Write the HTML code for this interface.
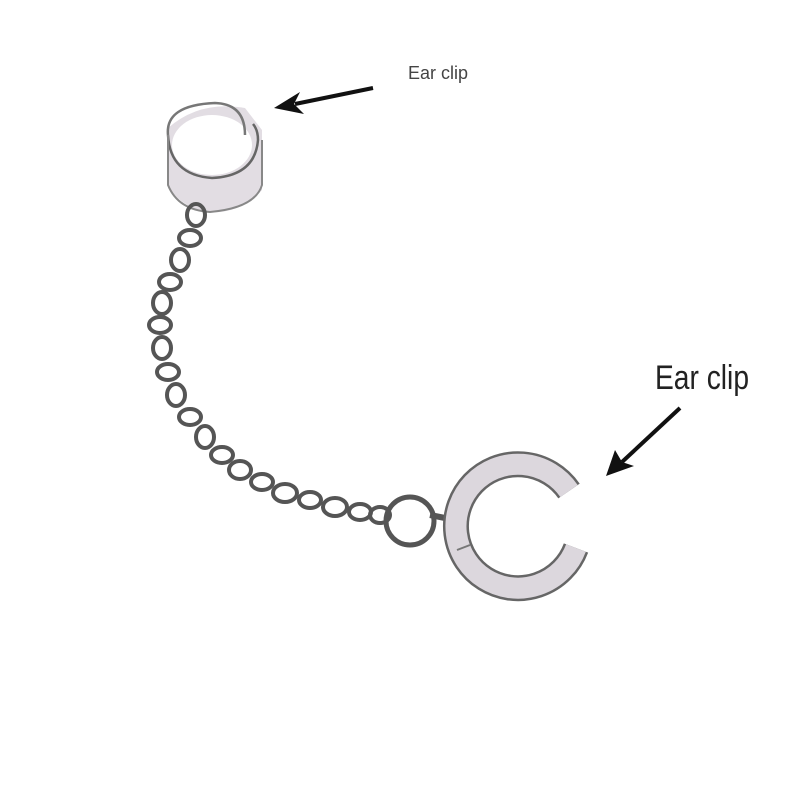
<!DOCTYPE html>
<html><head><style>
html,body{margin:0;padding:0;background:#fff;}
svg{display:block}
</style></head><body>
<svg width="800" height="800" viewBox="0 0 800 800" xmlns="http://www.w3.org/2000/svg">
<rect width="800" height="800" fill="#fff"/>
<!-- top cuff -->
<path d="M168,128 Q200,100 245,108 L262,130 L262,190 Q240,215 205,212 Q178,205 168,185 Z" fill="#e2dde3"/>
<ellipse cx="212" cy="145" rx="40" ry="30" fill="#fff"/>
<path d="M168,135 Q165,105 215,103 Q245,104 245,135" fill="none" stroke="#777" stroke-width="2.5"/>
<path d="M168,135 Q170,175 212,178 Q255,176 258,140 Q258,130 253,124" fill="none" stroke="#666" stroke-width="2.5"/>
<path d="M168,135 L168,185 Q178,210 210,212 Q255,208 262,185 L262,140" fill="none" stroke="#888" stroke-width="2"/>
<!-- chain -->
<g fill="none" stroke="#555" stroke-width="4">
<ellipse cx="196" cy="215" rx="9" ry="11"/>
<ellipse cx="190" cy="238" rx="11" ry="8"/>
<ellipse cx="180" cy="260" rx="9" ry="11"/>
<ellipse cx="170" cy="282" rx="11" ry="8"/>
<ellipse cx="162" cy="303" rx="9" ry="11"/>
<ellipse cx="160" cy="325" rx="11" ry="8"/>
<ellipse cx="162" cy="348" rx="9" ry="11"/>
<ellipse cx="168" cy="372" rx="11" ry="8"/>
<ellipse cx="176" cy="395" rx="9" ry="11"/>
<ellipse cx="190" cy="417" rx="11" ry="8"/>
<ellipse cx="205" cy="437" rx="9" ry="11"/>
<ellipse cx="222" cy="455" rx="11" ry="8"/>
<ellipse cx="240" cy="470" rx="11" ry="9"/>
<ellipse cx="262" cy="482" rx="11" ry="8"/>
<ellipse cx="285" cy="493" rx="12" ry="9"/>
<ellipse cx="310" cy="500" rx="11" ry="8"/>
<ellipse cx="335" cy="507" rx="12" ry="9"/>
<ellipse cx="360" cy="512" rx="11" ry="8"/>
<ellipse cx="380" cy="515" rx="10" ry="8"/>
<circle cx="410" cy="521" r="24" stroke-width="5"/>
<path d="M430,515 L445,518" stroke-width="6"/>
</g>
<!-- C clip -->
<path d="M569,491 A62,62 0 1,0 576,548" fill="none" stroke="#666" stroke-width="26"/>
<path d="M569,491 A62,62 0 1,0 576,548" fill="none" stroke="#dcd7dd" stroke-width="21"/>
<path d="M457,550 L470,545" stroke="#777" stroke-width="2"/>
<!-- labels -->
<text x="408" y="79" font-family="Liberation Sans, sans-serif" font-size="18" fill="#444" textLength="60" lengthAdjust="spacingAndGlyphs">Ear clip</text>
<line x1="373" y1="88" x2="295" y2="104" stroke="#111" stroke-width="4"/>
<path d="M274,108 L300,92 L294,104 L304,114 Z" fill="#111"/>
<text x="655" y="389" font-family="Liberation Sans, sans-serif" font-size="34" fill="#222" textLength="94" lengthAdjust="spacingAndGlyphs">Ear clip</text>
<line x1="680" y1="408" x2="622" y2="462" stroke="#111" stroke-width="4"/>
<path d="M606,476 L615,450 L622,462 L634,466 Z" fill="#111"/>
</svg>
</body></html>
